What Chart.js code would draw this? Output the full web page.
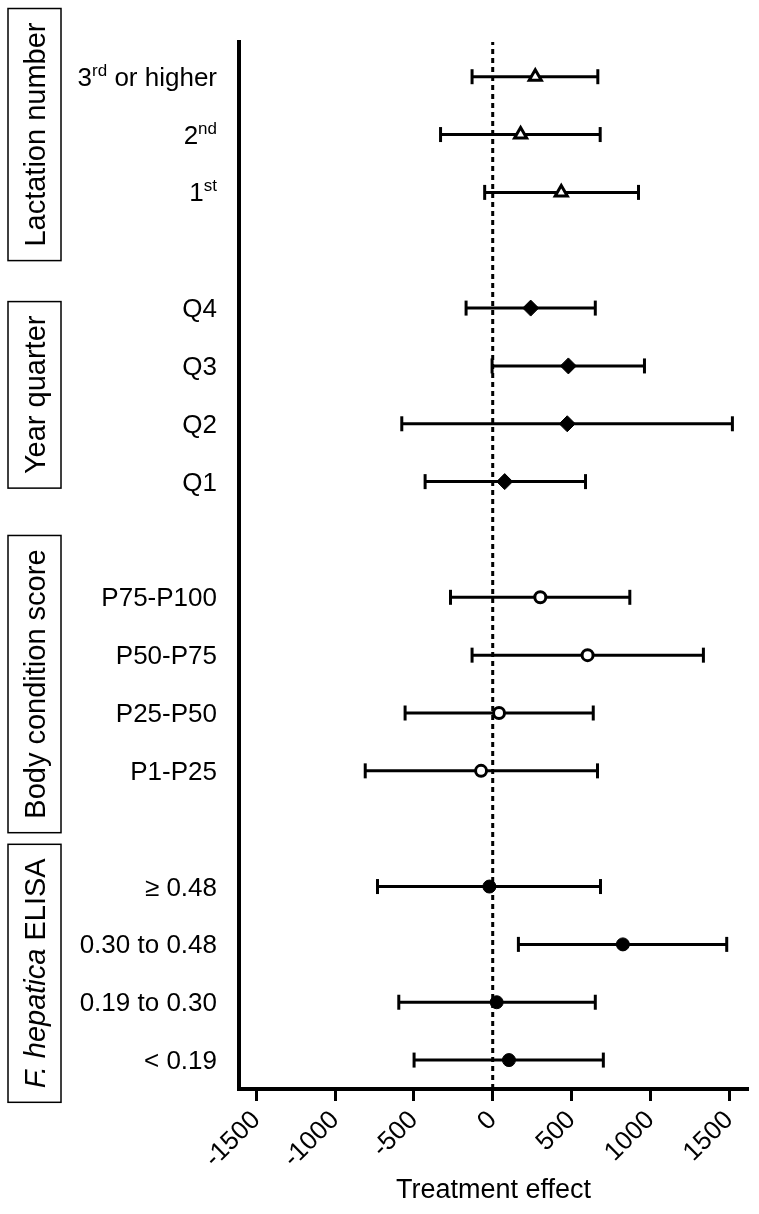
<!DOCTYPE html>
<html lang="en">
<head>
    <meta charset="UTF-8">
    <title>Treatment effect by subgroup</title>
    <script src="https://cdn.jsdelivr.net/npm/chart.js"></script>
    <style>
        body {
            margin: 0;
            padding: 0;
            background-color: #fff;
        }
        #chart-container {
            width: 759px;
            height: 1214px;
        }
    </style>
</head>
<body>

<div id="chart-container">
    <canvas id="forestChart" width="759" height="1214"></canvas>
</div>

<script>
    // Rows, top to bottom ("^{..}" marks a superscript)
    const rowLabels = ['3^{rd} or higher', '2^{nd}', '1^{st}',
        'Q4', 'Q3', 'Q2', 'Q1',
        'P75-P100', 'P50-P75', 'P25-P50', 'P1-P25',
        '≥ 0.48', '0.30 to 0.48', '0.19 to 0.30', '< 0.19'];
    const rowPos = [17, 16, 15, 13, 12, 11, 10, 8, 7, 6, 5, 3, 2, 1, 0];

    // Estimates and confidence limits
    const estimate = [270, 177, 435, 241, 480, 473, 76, 302, 602, 40, -74, -21, 826, 25, 103];
    const lower = [-131, -331, -51, -169, -4, -577, -429, -268, -131, -556, -809, -731, 163, -596, -499];
    const upper = [667, 682, 925, 651, 963, 1521, 589, 870, 1337, 638, 665, 684, 1485, 651, 702];

    // Groups: name and row index range [from, to)
    const groupNames = ['Lactation number', 'Year quarter', 'Body condition score', 'F. hepatica ELISA'];
    const groupRows = [[0, 3], [3, 7], [7, 11], [11, 15]];

    const xTicks = [-1500, -1000, -500, 0, 500, 1000, 1500];

    const FONT = 'Arial, "Liberation Sans", sans-serif';
    Chart.defaults.font.family = FONT;
    Chart.defaults.color = '#000';

    // marker style for each group
    const markers = [
        { pointStyle: 'triangle', radius: 7, bg: '#fff', bw: 3 },
        { pointStyle: 'rectRot', radius: 8, bg: '#000', bw: 1 },
        { pointStyle: 'circle', radius: 5.5, bg: '#fff', bw: 3 },
        { pointStyle: 'circle', radius: 6.5, bg: '#000', bw: 1 }
    ];

    const datasets = [];

    // marker datasets (on top)
    groupRows.forEach((g, gi) => {
        const pts = [];
        for (let i = g[0]; i < g[1]; i++) pts.push({ x: estimate[i], y: rowPos[i] });
        const m = markers[gi];
        datasets.push({
            data: pts,
            showLine: false,
            pointStyle: m.pointStyle,
            pointRadius: m.radius,
            pointBackgroundColor: m.bg,
            pointBorderColor: '#000',
            pointBorderWidth: m.bw,
            order: 0
        });
    });

    // error bars with caps
    rowPos.forEach((y, i) => {
        datasets.push({
            data: [{ x: lower[i], y: y }, { x: upper[i], y: y }],
            showLine: true,
            borderColor: '#000',
            borderWidth: 3,
            pointStyle: 'line',
            rotation: 90,
            pointRadius: 7.5,
            pointBorderColor: '#000',
            pointBorderWidth: 3,
            order: 1
        });
    });

    // zero reference line
    datasets.push({
        data: [{ x: 0, y: -0.5 }, { x: 0, y: 17.6 }],
        showLine: true,
        borderColor: '#000',
        borderWidth: 3,
        borderDash: [5, 4],
        pointRadius: 0,
        order: 2
    });

    function drawLabel(ctx, text, xRight, yBase) {
        // split into normal and superscript parts
        const parts = [];
        const re = /\^\{(.*?)\}/g;
        let last = 0, m;
        while ((m = re.exec(text)) !== null) {
            if (m.index > last) parts.push({ t: text.slice(last, m.index), sup: false });
            parts.push({ t: m[1], sup: true });
            last = re.lastIndex;
        }
        if (last < text.length) parts.push({ t: text.slice(last), sup: false });

        const fontN = '26px ' + FONT, fontS = '17px ' + FONT;
        let total = 0;
        parts.forEach(p => {
            ctx.font = p.sup ? fontS : fontN;
            p.w = ctx.measureText(p.t).width;
            total += p.w;
        });
        let x = xRight - total;
        ctx.textAlign = 'left';
        ctx.textBaseline = 'alphabetic';
        parts.forEach(p => {
            ctx.font = p.sup ? fontS : fontN;
            ctx.fillText(p.t, x, p.sup ? yBase - 10 : yBase);
            x += p.w;
        });
    }

    const labelPlugin = {
        id: 'rowLabels',
        afterDraw(chart) {
            const ctx = chart.ctx;
            const yScale = chart.scales.y;
            ctx.save();
            ctx.fillStyle = '#000';
            rowLabels.forEach((lab, i) => {
                drawLabel(ctx, lab, 217, yScale.getPixelForValue(rowPos[i]) + 9);
            });

            // group boxes with vertical titles
            const boxLeft = 8, boxRight = 61;
            const boxFont = '29px ' + FONT;
            groupRows.forEach((g, gi) => {
                const top = yScale.getPixelForValue(rowPos[g[0]]);
                const bot = yScale.getPixelForValue(rowPos[g[1] - 1]);
                const cy = (top + bot) / 2;
                const name = groupNames[gi];
                let segs;
                if (name.startsWith('F. hepatica')) {
                    segs = [{ t: 'F. hepatica', f: 'italic ' + boxFont }, { t: ' ELISA', f: boxFont }];
                } else {
                    segs = [{ t: name, f: boxFont }];
                }
                let w = 0;
                segs.forEach(s => { ctx.font = s.f; s.w = ctx.measureText(s.t).width; w += s.w; });
                const half = w / 2 + 14;
                ctx.lineWidth = 1.5;
                ctx.strokeStyle = '#000';
                ctx.strokeRect(boxLeft, cy - half, boxRight - boxLeft, 2 * half);

                ctx.save();
                ctx.translate(45, cy);
                ctx.rotate(-Math.PI / 2);
                ctx.textAlign = 'left';
                ctx.textBaseline = 'alphabetic';
                let x = -w / 2;
                segs.forEach(s => { ctx.font = s.f; ctx.fillText(s.t, x, 0); x += s.w; });
                ctx.restore();
            });
            ctx.restore();
        }
    };

    const ctx = document.getElementById('forestChart').getContext('2d');
    new Chart(ctx, {
        type: 'scatter',
        data: { datasets: datasets },
        options: {
            responsive: false,
            animation: false,
            layout: {
                padding: { left: 229, top: 42, right: 11, bottom: 0 }
            },
            plugins: {
                legend: { display: false },
                tooltip: { enabled: false }
            },
            scales: {
                x: {
                    type: 'linear',
                    min: -1610,
                    max: 1620,
                    afterBuildTicks: axis => {
                        axis.ticks = xTicks.map(v => ({ value: v }));
                    },
                    afterFit: scale => { scale.height = 125; },
                    ticks: {
                        autoSkip: false,
                        maxRotation: 45,
                        minRotation: 45,
                        padding: 4,
                        color: '#000',
                        font: { size: 26 },
                        callback: value => String(value)
                    },
                    grid: {
                        drawOnChartArea: false,
                        drawTicks: true,
                        tickLength: 12,
                        tickWidth: 3,
                        tickColor: '#000'
                    },
                    border: { display: true, width: 4, color: '#000' },
                    title: {
                        display: true,
                        text: 'Treatment effect',
                        color: '#000',
                        font: { size: 27 },
                        padding: { top: 0, bottom: 7 }
                    }
                },
                y: {
                    type: 'linear',
                    min: -0.5,
                    max: 17.6,
                    afterFit: scale => { scale.width = 10; },
                    ticks: { display: false },
                    grid: { drawOnChartArea: false, drawTicks: false },
                    border: { display: true, width: 4, color: '#000' }
                }
            }
        },
        plugins: [labelPlugin]
    });
</script>

</body>
</html>
